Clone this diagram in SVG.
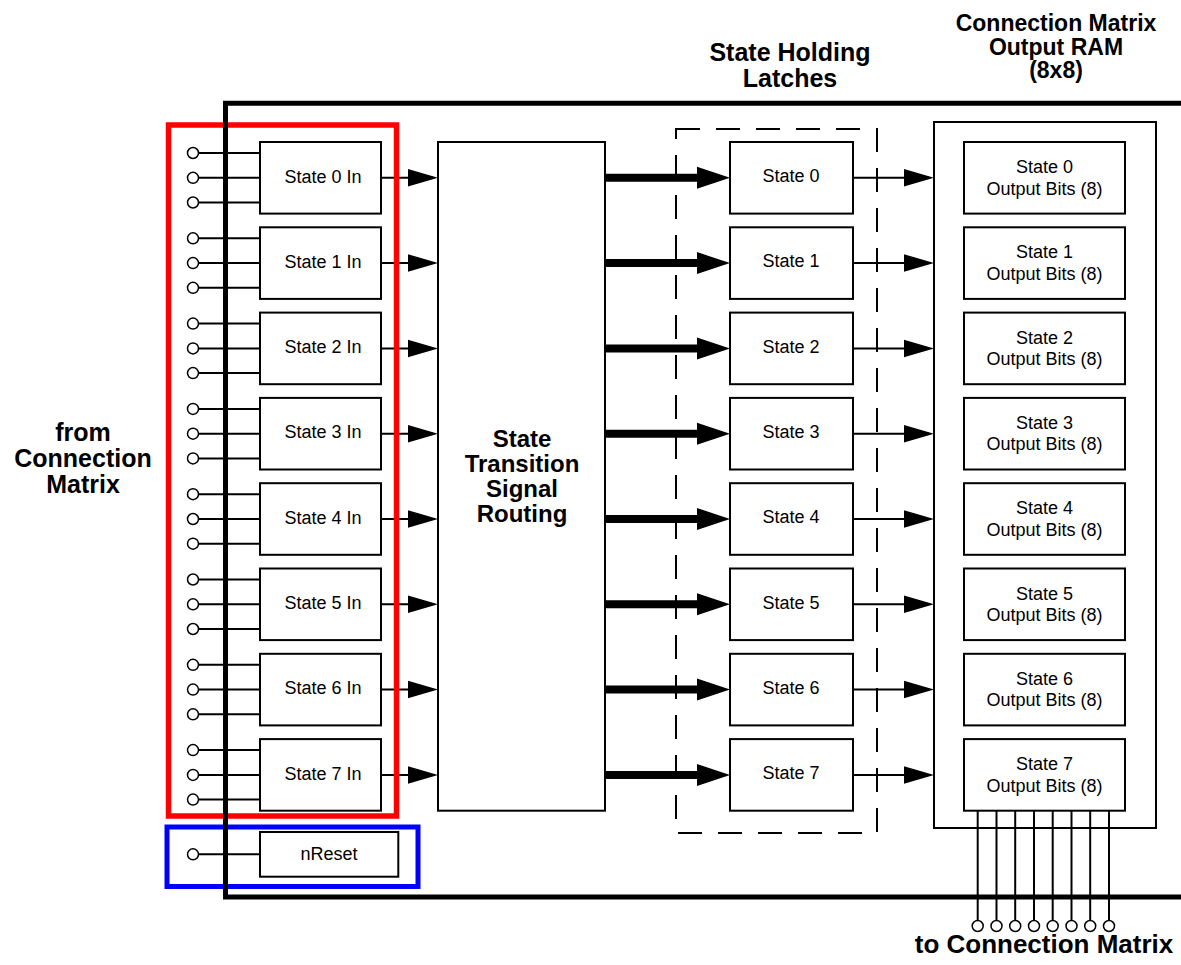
<svg xmlns="http://www.w3.org/2000/svg" width="1181" height="965" viewBox="0 0 1181 965">
<style>
text{font-family:"Liberation Sans",Arial,Helvetica,sans-serif;fill:#000}
.lbl{font-size:18px;text-anchor:middle}
.hdr{font-size:24px;font-weight:bold;text-anchor:middle}
.box{fill:#fff;stroke:#000;stroke-width:2}
.wire{stroke:#000;stroke-width:2;fill:none}
.pin{fill:#fff;stroke:#000;stroke-width:1.5}
.thin{stroke:#000;stroke-width:2;fill:none;marker-end:url(#ah)}
.thick{stroke:#000;stroke-width:8;fill:none;marker-end:url(#ahb)}
</style>
<defs>
<marker id="ah" markerUnits="userSpaceOnUse" markerWidth="30" markerHeight="18" refX="25" refY="8.75" orient="auto" overflow="visible">
<path d="M0,0 L30,8.75 L0,17.5 z" fill="#000"/>
</marker>
<marker id="ahb" markerUnits="userSpaceOnUse" markerWidth="33" markerHeight="22" refX="3" refY="11" orient="auto" overflow="visible">
<path d="M0,0 L33,11 L0,22 z" fill="#000"/>
</marker>
</defs>
<rect width="1181" height="965" fill="#fff"/>

<!-- headers -->
<g id="hdr-latches">
<text class="hdr" x="790" y="60.5" style="font-size:25px">State Holding</text>
<text class="hdr" x="790" y="87" style="font-size:25px">Latches</text>
</g>
<g id="hdr-ram">
<text class="hdr" x="1056" y="31" style="font-size:23px">Connection Matrix</text>
<text class="hdr" x="1056" y="54.5" style="font-size:23px">Output RAM</text>
<text class="hdr" x="1056" y="78" style="font-size:23px">(8x8)</text>
</g>
<g id="hdr-from">
<text class="hdr" x="83" y="441" style="font-size:25px">from</text>
<text class="hdr" x="83" y="467" style="font-size:25px">Connection</text>
<text class="hdr" x="83" y="493" style="font-size:25px">Matrix</text>
</g>
<g id="hdr-to">
<text class="hdr" x="1044" y="953" style="font-size:26px">to Connection Matrix</text>
</g>

<!-- groups / containers -->
<rect id="latch-group" x="676" y="129" width="201" height="704" fill="none" stroke="#000" stroke-width="2" stroke-dasharray="24 16"/>
<rect id="ram" x="934" y="122" width="222" height="706" class="box"/>
<g id="routing">
<rect x="438" y="142" width="167" height="668.7" class="box"/>
<text class="hdr" x="522" y="446.5">State</text>
<text class="hdr" x="522" y="471.5">Transition</text>
<text class="hdr" x="522" y="496.5">Signal</text>
<text class="hdr" x="522" y="521.5">Routing</text>
</g>

<!-- connectors -->
<g id="connectors">
<g id="inputs">
<line class="wire" x1="198.5" y1="153" x2="260" y2="153"/><line class="wire" x1="198.5" y1="177.8" x2="260" y2="177.8"/><line class="wire" x1="198.5" y1="202.5" x2="260" y2="202.5"/>
<line class="wire" x1="198.5" y1="238.3" x2="260" y2="238.3"/><line class="wire" x1="198.5" y1="263.1" x2="260" y2="263.1"/><line class="wire" x1="198.5" y1="287.8" x2="260" y2="287.8"/>
<line class="wire" x1="198.5" y1="323.6" x2="260" y2="323.6"/><line class="wire" x1="198.5" y1="348.4" x2="260" y2="348.4"/><line class="wire" x1="198.5" y1="373.1" x2="260" y2="373.1"/>
<line class="wire" x1="198.5" y1="408.9" x2="260" y2="408.9"/><line class="wire" x1="198.5" y1="433.7" x2="260" y2="433.7"/><line class="wire" x1="198.5" y1="458.4" x2="260" y2="458.4"/>
<line class="wire" x1="198.5" y1="494.2" x2="260" y2="494.2"/><line class="wire" x1="198.5" y1="519" x2="260" y2="519"/><line class="wire" x1="198.5" y1="543.7" x2="260" y2="543.7"/>
<line class="wire" x1="198.5" y1="579.5" x2="260" y2="579.5"/><line class="wire" x1="198.5" y1="604.3" x2="260" y2="604.3"/><line class="wire" x1="198.5" y1="629" x2="260" y2="629"/>
<line class="wire" x1="198.5" y1="664.8" x2="260" y2="664.8"/><line class="wire" x1="198.5" y1="689.6" x2="260" y2="689.6"/><line class="wire" x1="198.5" y1="714.3" x2="260" y2="714.3"/>
<line class="wire" x1="198.5" y1="750.1" x2="260" y2="750.1"/><line class="wire" x1="198.5" y1="774.9" x2="260" y2="774.9"/><line class="wire" x1="198.5" y1="799.6" x2="260" y2="799.6"/>
<line class="wire" x1="198.5" y1="854.3" x2="260" y2="854.3"/>
</g>
<g id="to-routing">
<line class="thin" x1="381" y1="177.8" x2="433" y2="177.8"/>
<line class="thin" x1="381" y1="263.1" x2="433" y2="263.1"/>
<line class="thin" x1="381" y1="348.4" x2="433" y2="348.4"/>
<line class="thin" x1="381" y1="433.7" x2="433" y2="433.7"/>
<line class="thin" x1="381" y1="519" x2="433" y2="519"/>
<line class="thin" x1="381" y1="604.3" x2="433" y2="604.3"/>
<line class="thin" x1="381" y1="689.6" x2="433" y2="689.6"/>
<line class="thin" x1="381" y1="774.9" x2="433" y2="774.9"/>
</g>
<g id="to-latches">
<line class="thick" x1="605" y1="177.8" x2="700" y2="177.8"/>
<line class="thick" x1="605" y1="263.1" x2="700" y2="263.1"/>
<line class="thick" x1="605" y1="348.4" x2="700" y2="348.4"/>
<line class="thick" x1="605" y1="433.7" x2="700" y2="433.7"/>
<line class="thick" x1="605" y1="519" x2="700" y2="519"/>
<line class="thick" x1="605" y1="604.3" x2="700" y2="604.3"/>
<line class="thick" x1="605" y1="689.6" x2="700" y2="689.6"/>
<line class="thick" x1="605" y1="774.9" x2="700" y2="774.9"/>
</g>
<g id="to-ram">
<line class="thin" x1="853" y1="177.8" x2="929" y2="177.8"/>
<line class="thin" x1="853" y1="263.1" x2="929" y2="263.1"/>
<line class="thin" x1="853" y1="348.4" x2="929" y2="348.4"/>
<line class="thin" x1="853" y1="433.7" x2="929" y2="433.7"/>
<line class="thin" x1="853" y1="519" x2="929" y2="519"/>
<line class="thin" x1="853" y1="604.3" x2="929" y2="604.3"/>
<line class="thin" x1="853" y1="689.6" x2="929" y2="689.6"/>
<line class="thin" x1="853" y1="774.9" x2="929" y2="774.9"/>
</g>
<g id="outputs">
<line class="wire" x1="977.7" y1="810.7" x2="977.7" y2="920.5"/>
<line class="wire" x1="996.5" y1="810.7" x2="996.5" y2="920.5"/>
<line class="wire" x1="1015.2" y1="810.7" x2="1015.2" y2="920.5"/>
<line class="wire" x1="1034" y1="810.7" x2="1034" y2="920.5"/>
<line class="wire" x1="1052.7" y1="810.7" x2="1052.7" y2="920.5"/>
<line class="wire" x1="1071.5" y1="810.7" x2="1071.5" y2="920.5"/>
<line class="wire" x1="1090.2" y1="810.7" x2="1090.2" y2="920.5"/>
<line class="wire" x1="1109" y1="810.7" x2="1109" y2="920.5"/>
</g>
</g>

<!-- input boxes -->
<g id="in0"><rect class="box" x="260" y="142" width="121" height="71.6"/><text class="lbl" x="323" y="182.5">State 0 In</text></g>
<g id="in1"><rect class="box" x="260" y="227.3" width="121" height="71.6"/><text class="lbl" x="323" y="267.8">State 1 In</text></g>
<g id="in2"><rect class="box" x="260" y="312.6" width="121" height="71.6"/><text class="lbl" x="323" y="353.1">State 2 In</text></g>
<g id="in3"><rect class="box" x="260" y="397.9" width="121" height="71.6"/><text class="lbl" x="323" y="438.4">State 3 In</text></g>
<g id="in4"><rect class="box" x="260" y="483.2" width="121" height="71.6"/><text class="lbl" x="323" y="523.7">State 4 In</text></g>
<g id="in5"><rect class="box" x="260" y="568.5" width="121" height="71.6"/><text class="lbl" x="323" y="609">State 5 In</text></g>
<g id="in6"><rect class="box" x="260" y="653.8" width="121" height="71.6"/><text class="lbl" x="323" y="694.3">State 6 In</text></g>
<g id="in7"><rect class="box" x="260" y="739.1" width="121" height="71.6"/><text class="lbl" x="323" y="779.6">State 7 In</text></g>
<g id="nreset"><rect class="box" x="260" y="832" width="138.3" height="44.7"/><text class="lbl" x="329" y="860">nReset</text></g>

<!-- latches -->
<g id="latch0"><rect class="box" x="730" y="142" width="123" height="71.6"/><text class="lbl" x="791" y="182">State 0</text></g>
<g id="latch1"><rect class="box" x="730" y="227.3" width="123" height="71.6"/><text class="lbl" x="791" y="267.3">State 1</text></g>
<g id="latch2"><rect class="box" x="730" y="312.6" width="123" height="71.6"/><text class="lbl" x="791" y="352.6">State 2</text></g>
<g id="latch3"><rect class="box" x="730" y="397.9" width="123" height="71.6"/><text class="lbl" x="791" y="437.9">State 3</text></g>
<g id="latch4"><rect class="box" x="730" y="483.2" width="123" height="71.6"/><text class="lbl" x="791" y="523.2">State 4</text></g>
<g id="latch5"><rect class="box" x="730" y="568.5" width="123" height="71.6"/><text class="lbl" x="791" y="608.5">State 5</text></g>
<g id="latch6"><rect class="box" x="730" y="653.8" width="123" height="71.6"/><text class="lbl" x="791" y="693.8">State 6</text></g>
<g id="latch7"><rect class="box" x="730" y="739.1" width="123" height="71.6"/><text class="lbl" x="791" y="779.1">State 7</text></g>

<!-- RAM rows -->
<g id="ram0"><rect class="box" x="964" y="142" width="161" height="71.6"/><text class="lbl" x="1044.5" y="173">State 0</text><text class="lbl" x="1044.5" y="194.5">Output Bits (8)</text></g>
<g id="ram1"><rect class="box" x="964" y="227.3" width="161" height="71.6"/><text class="lbl" x="1044.5" y="258.3">State 1</text><text class="lbl" x="1044.5" y="279.8">Output Bits (8)</text></g>
<g id="ram2"><rect class="box" x="964" y="312.6" width="161" height="71.6"/><text class="lbl" x="1044.5" y="343.6">State 2</text><text class="lbl" x="1044.5" y="365.1">Output Bits (8)</text></g>
<g id="ram3"><rect class="box" x="964" y="397.9" width="161" height="71.6"/><text class="lbl" x="1044.5" y="428.9">State 3</text><text class="lbl" x="1044.5" y="450.4">Output Bits (8)</text></g>
<g id="ram4"><rect class="box" x="964" y="483.2" width="161" height="71.6"/><text class="lbl" x="1044.5" y="514.2">State 4</text><text class="lbl" x="1044.5" y="535.7">Output Bits (8)</text></g>
<g id="ram5"><rect class="box" x="964" y="568.5" width="161" height="71.6"/><text class="lbl" x="1044.5" y="599.5">State 5</text><text class="lbl" x="1044.5" y="621">Output Bits (8)</text></g>
<g id="ram6"><rect class="box" x="964" y="653.8" width="161" height="71.6"/><text class="lbl" x="1044.5" y="684.8">State 6</text><text class="lbl" x="1044.5" y="706.3">Output Bits (8)</text></g>
<g id="ram7"><rect class="box" x="964" y="739.1" width="161" height="71.6"/><text class="lbl" x="1044.5" y="770.1">State 7</text><text class="lbl" x="1044.5" y="791.6">Output Bits (8)</text></g>

<!-- highlight frames -->
<rect id="inputs-frame" x="168.5" y="125" width="228" height="691" fill="none" stroke="#ff0000" stroke-width="5.5"/>
<rect id="reset-frame" x="167" y="827" width="251" height="59.5" fill="none" stroke="#0000ff" stroke-width="5"/>

<!-- chip boundary -->
<path id="boundary" d="M1181,103.3 H225.5 V897 H1181" fill="none" stroke="#000" stroke-width="5"/>

<!-- pins -->
<g id="pins">
<circle class="pin" cx="193" cy="153" r="5.5"/><circle class="pin" cx="193" cy="177.8" r="5.5"/><circle class="pin" cx="193" cy="202.5" r="5.5"/>
<circle class="pin" cx="193" cy="238.3" r="5.5"/><circle class="pin" cx="193" cy="263.1" r="5.5"/><circle class="pin" cx="193" cy="287.8" r="5.5"/>
<circle class="pin" cx="193" cy="323.6" r="5.5"/><circle class="pin" cx="193" cy="348.4" r="5.5"/><circle class="pin" cx="193" cy="373.1" r="5.5"/>
<circle class="pin" cx="193" cy="408.9" r="5.5"/><circle class="pin" cx="193" cy="433.7" r="5.5"/><circle class="pin" cx="193" cy="458.4" r="5.5"/>
<circle class="pin" cx="193" cy="494.2" r="5.5"/><circle class="pin" cx="193" cy="519" r="5.5"/><circle class="pin" cx="193" cy="543.7" r="5.5"/>
<circle class="pin" cx="193" cy="579.5" r="5.5"/><circle class="pin" cx="193" cy="604.3" r="5.5"/><circle class="pin" cx="193" cy="629" r="5.5"/>
<circle class="pin" cx="193" cy="664.8" r="5.5"/><circle class="pin" cx="193" cy="689.6" r="5.5"/><circle class="pin" cx="193" cy="714.3" r="5.5"/>
<circle class="pin" cx="193" cy="750.1" r="5.5"/><circle class="pin" cx="193" cy="774.9" r="5.5"/><circle class="pin" cx="193" cy="799.6" r="5.5"/>
<circle class="pin" cx="193" cy="854.3" r="5.5"/>
<circle class="pin" cx="977.7" cy="926" r="5.5"/><circle class="pin" cx="996.5" cy="926" r="5.5"/><circle class="pin" cx="1015.2" cy="926" r="5.5"/><circle class="pin" cx="1034" cy="926" r="5.5"/>
<circle class="pin" cx="1052.7" cy="926" r="5.5"/><circle class="pin" cx="1071.5" cy="926" r="5.5"/><circle class="pin" cx="1090.2" cy="926" r="5.5"/><circle class="pin" cx="1109" cy="926" r="5.5"/>
</g>
</svg>
